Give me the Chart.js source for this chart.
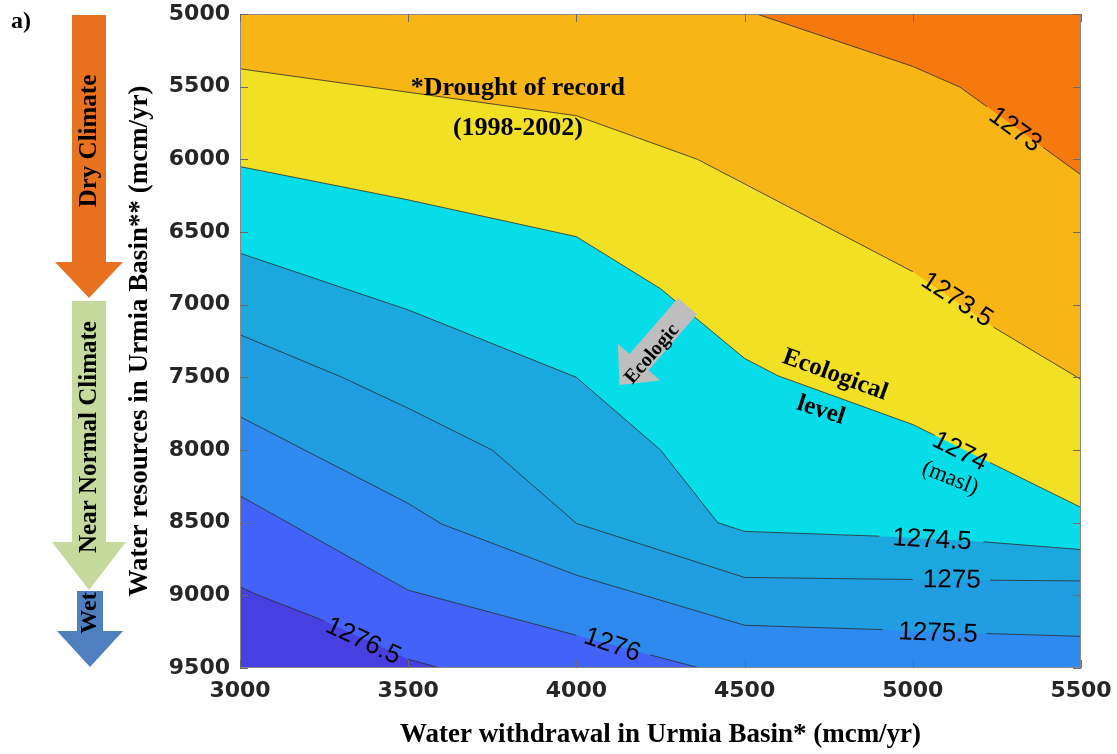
<!DOCTYPE html>
<html>
<head>
<meta charset="utf-8">
<script src="https://cdn.jsdelivr.net/npm/chart.js@4.4.1/dist/chart.umd.min.js"></script>
<style>
  html, body { margin: 0; padding: 0; background: #fff; }
  #wrap { width: 1117px; height: 754px; }
</style>
</head>
<body>
<div id="wrap"><canvas id="chart"></canvas></div>
<script>
// Axis ticks
const withdrawalTicks = [3000, 3500, 4000, 4500, 5000, 5500];
const resourceTicks   = [5000, 5500, 6000, 6500, 7000, 7500, 8000, 8500, 9000, 9500];

// Contour levels (masl) and their lines as [withdrawal, resources] vertices
const levels  = ['1273', '1273.5', '1274', '1274.5', '1275', '1275.5', '1276', '1276.5'];
const c1273   = [[3000,5000],[4536,5000],[5000,5361],[5140,5503],[5220,5637],[5387,5917],[5500,6107]];
const c1273_5 = [[3000,5377],[4000,5700],[4360,6000],[5000,6773],[5240,7155],[5500,7515]];
const c1274   = [[3000,6050],[3500,6279],[4000,6532],[4250,6890],[4500,7370],[4600,7490],[5000,7825],[5065,7899],[5230,8087],[5500,8395]];
const c1274_5 = [[3000,6646],[3500,7036],[4000,7500],[4250,8000],[4420,8500],[4500,8560],[4900,8593],[5210,8632],[5500,8685]];
const c1275   = [[3000,7207],[3300,7496],[3500,7713],[3750,8001],[4000,8505],[4500,8877],[5000,8891],[5230,8896],[5500,8901]];
const c1275_5 = [[3000,7771],[3500,8368],[3600,8510],[4000,8861],[4500,9206],[4910,9236],[5219,9263],[5500,9282]];
const c1276   = [[3000,8315],[3500,8965],[4000,9275],[4219,9410],[4367,9500],[5500,9500]];
const c1276_5 = [[3000,8942],[3050,8995],[3250,9175],[3500,9440],[3595,9500],[5500,9500]];
const contours = [c1273, c1273_5, c1274, c1274_5, c1275, c1275_5, c1276, c1276_5];

// Where each line is broken for its label (withdrawal range), and label anchor [x, y, angle]
const labelGaps = [[5220,5387],[5000,5240],[5065,5230],[4900,5210],[5000,5230],[4910,5219],[4000,4219],[3250,3500]];
const labelAt   = [[5304,5798,36],[5131,6968,33],[5140,8012,27],[5057,8620,3],[5116,8896,0.5],[5075,9262,2],[4106,9343,19],[3366,9316,25]];

// Band colours: the band on the dry (low resources) side of each line, plus the wettest band
const bandColors = ['#f6790f', '#f7b516', '#f2e024', '#07dde8', '#1ca8de', '#209ee1', '#2e8aee', '#4362fa'];
const wettestColor = '#483fe0';

const LINE = '#2b2b2b';
const NONE = 'rgba(0,0,0,0)';
const serif = '"Liberation Serif", "Times New Roman", serif';
const sans  = '"Liberation Sans", Arial, sans-serif';
const tickFont = '"DejaVu Sans", Arial, sans-serif';

const toPoints = pts => pts.map(([x, y]) => ({ x, y }));

// filled bands (one polygon each, no outline)
const bandSets = contours.map((pts, i) => ({
  label: levels[i] + ' band',
  data: toPoints(pts),
  borderWidth: 0,
  borderColor: NONE,
  backgroundColor: bandColors[i],
  fill: { value: 5000 },
  pointRadius: 0,
  tension: 0,
}));

// contour lines, broken where the label sits
const lineSets = contours.map((pts, i) => ({
  label: levels[i],
  data: toPoints(pts),
  borderColor: LINE,
  borderWidth: 0.8,
  fill: false,
  pointRadius: 0,
  tension: 0,
  segment: {
    borderColor: ctx => {
      const a = ctx.p0.parsed, b = ctx.p1.parsed;
      const [g0, g1] = labelGaps[i];
      if (a.x >= g0 && b.x <= g1) return NONE;
      if (a.y === b.y && (a.y === 5000 || a.y === 9500)) return NONE;
      return LINE;
    },
  },
}));

function text(ctx, str, x, y, deg, font, color = '#000') {
  ctx.save();
  ctx.translate(x, y);
  ctx.rotate(deg * Math.PI / 180);
  ctx.font = font;
  ctx.fillStyle = color;
  ctx.textAlign = 'center';
  ctx.textBaseline = 'middle';
  ctx.fillText(str, 0, 0);
  ctx.restore();
}

function downArrow(ctx, cx, bodyHalf, headHalf, y0, yHead, yTip, color) {
  ctx.save();
  ctx.fillStyle = color;
  ctx.beginPath();
  ctx.moveTo(cx - bodyHalf, y0);
  ctx.lineTo(cx + bodyHalf, y0);
  ctx.lineTo(cx + bodyHalf, yHead);
  ctx.lineTo(cx + headHalf, yHead);
  ctx.lineTo(cx, yTip);
  ctx.lineTo(cx - headHalf, yHead);
  ctx.lineTo(cx - bodyHalf, yHead);
  ctx.closePath();
  ctx.fill();
  ctx.restore();
}

const background = {
  id: 'background',
  beforeDraw(chart) {
    const { ctx, chartArea: a } = chart;
    ctx.save();
    ctx.fillStyle = wettestColor;
    ctx.fillRect(a.left, a.top, a.right - a.left, a.bottom - a.top);
    ctx.restore();
  },
};

const overlay = {
  id: 'overlay',
  afterDatasetsDraw(chart) {
    const { ctx, chartArea: a } = chart;
    const xs = chart.scales.x, ys = chart.scales.y;
    const px = v => xs.getPixelForValue(v);
    const py = v => ys.getPixelForValue(v);

    // frame with inward ticks on all four sides
    ctx.save();
    ctx.strokeStyle = '#8a8a8a';
    ctx.lineWidth = 1;
    ctx.strokeRect(a.left + 0.5, a.top + 0.5, a.right - a.left - 1, a.bottom - a.top - 1);
    ctx.strokeStyle = '#6a6a6a';
    ctx.beginPath();
    withdrawalTicks.forEach(v => {
      const x = Math.round(px(v)) + 0.5;
      ctx.moveTo(x, a.bottom); ctx.lineTo(x, a.bottom - 8);
      ctx.moveTo(x, a.top);    ctx.lineTo(x, a.top + 8);
    });
    resourceTicks.forEach(v => {
      const y = Math.round(py(v)) + 0.5;
      ctx.moveTo(a.left, y);  ctx.lineTo(a.left + 8, y);
      ctx.moveTo(a.right, y); ctx.lineTo(a.right - 8, y);
    });
    ctx.stroke();
    ctx.restore();

    // contour labels
    labelAt.forEach(([x, y, deg], i) => {
      text(ctx, levels[i], px(x), py(y), deg, `26px ${sans}`);
    });
    text(ctx, '(masl)', px(5111), py(8195), 22, `23px ${serif}`);

    // annotations
    text(ctx, '*Drought of record', px(3826), py(5508), 0, `bold 26px ${serif}`);
    text(ctx, '(1998-2002)', px(3826), py(5785), 0, `bold 26px ${serif}`);
    text(ctx, 'Ecological', px(4769), py(7484), 20, `bold 25px ${serif}`);
    text(ctx, 'level', px(4727), py(7728), 18, `bold 25px ${serif}`);

    // grey "Ecologic" arrow pointing towards wetter conditions
    const tail = [px(4330), py(7010)], tip = [px(4128), py(7552)];
    let dx = tip[0] - tail[0], dy = tip[1] - tail[1];
    const len = Math.hypot(dx, dy);
    dx /= len; dy /= len;
    const nx = -dy, ny = dx;
    const headLen = 30, bw = 12.5, hw = 28;
    const bx = tip[0] - dx * headLen, by = tip[1] - dy * headLen;
    ctx.save();
    ctx.fillStyle = '#bebebe';
    ctx.beginPath();
    ctx.moveTo(tail[0] + nx * bw, tail[1] + ny * bw);
    ctx.lineTo(bx + nx * bw, by + ny * bw);
    ctx.lineTo(bx + nx * hw, by + ny * hw);
    ctx.lineTo(tip[0], tip[1]);
    ctx.lineTo(bx - nx * hw, by - ny * hw);
    ctx.lineTo(bx - nx * bw, by - ny * bw);
    ctx.lineTo(tail[0] - nx * bw, tail[1] - ny * bw);
    ctx.closePath();
    ctx.fill();
    ctx.restore();
    const ang = Math.atan2(-dy, -dx) * 180 / Math.PI;
    text(ctx, 'Ecologic', px(4225), py(7340), ang, `bold 20px ${serif}`);
  },
  afterDraw(chart) {
    const { ctx } = chart;
    // climate arrows on the left
    downArrow(ctx, 89, 17, 34, 15, 262, 298, '#e8721f');
    downArrow(ctx, 89, 17, 37, 301, 542, 590, '#c5da9c');
    downArrow(ctx, 90, 13, 33, 591, 631, 667, '#4f7fbf');
    text(ctx, 'Dry Climate', 90, 141, -90, `bold 25px ${serif}`);
    text(ctx, 'Near Normal Climate', 90, 437, -90, `bold 25px ${serif}`);
    text(ctx, 'Wet', 90, 613, -90, `bold 24px ${serif}`);
    ctx.save();
    ctx.font = `bold 24px ${serif}`;
    ctx.fillStyle = '#000';
    ctx.textBaseline = 'middle';
    ctx.fillText('a)', 11, 22);
    ctx.restore();
  },
};

new Chart(document.getElementById('chart'), {
  type: 'line',
  data: { datasets: [...bandSets, ...lineSets] },
  options: {
    responsive: true,
    maintainAspectRatio: false,
    animation: false,
    layout: { padding: { left: 120, top: 14, right: 36, bottom: 0 } },
    plugins: {
      legend: { display: false },
      tooltip: { enabled: false },
      filler: { drawTime: 'beforeDatasetsDraw' },
    },
    scales: {
      x: {
        type: 'linear',
        min: 3000,
        max: 5500,
        grid: { display: false, drawTicks: false },
        border: { display: false },
        ticks: {
          stepSize: 500,
          padding: 10,
          color: '#262626',
          font: { family: tickFont, weight: 'bold', size: 22 },
          callback: v => String(v),
        },
        title: {
          display: true,
          text: 'Water withdrawal in Urmia Basin* (mcm/yr)',
          color: '#000',
          font: { family: serif, weight: 'bold', size: 27 },
          padding: { top: 0, bottom: 3 },
        },
        afterFit: s => { s.height = 86; s.paddingLeft = 0; s.paddingRight = 0; },
      },
      y: {
        type: 'linear',
        reverse: true,
        min: 5000,
        max: 9500,
        grid: { display: false, drawTicks: false },
        border: { display: false },
        ticks: {
          stepSize: 500,
          padding: 10,
          color: '#262626',
          font: { family: tickFont, weight: 'bold', size: 22 },
          callback: v => String(v),
        },
        title: {
          display: true,
          text: 'Water resources in Urmia Basin** (mcm/yr)',
          color: '#000',
          font: { family: serif, weight: 'bold', size: 27 },
          padding: { top: 4, bottom: 0 },
        },
        afterFit: s => { s.width = 120; s.paddingTop = 0; s.paddingBottom = 0; },
      },
    },
  },
  plugins: [background, overlay],
});
</script>
</body>
</html>
